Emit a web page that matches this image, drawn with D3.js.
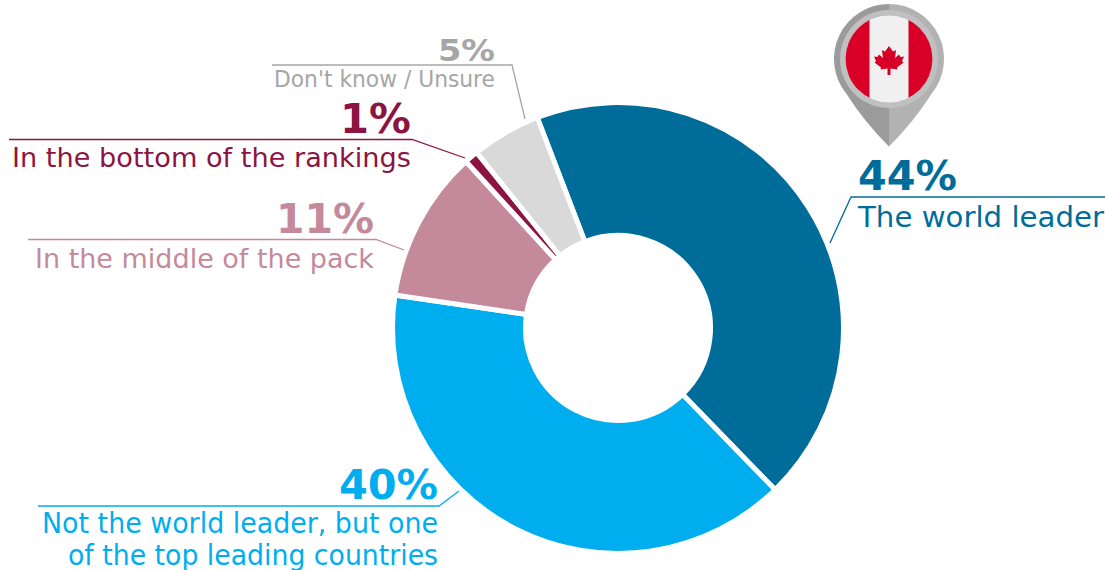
<!DOCTYPE html>
<html><head><meta charset="utf-8">
<script src="https://cdnjs.cloudflare.com/ajax/libs/d3/7.8.5/d3.min.js"></script>
<style>html,body{margin:0;padding:0;background:#fff}svg{display:block}text{font-family:"DejaVu Sans",Verdana,sans-serif}</style>
</head><body><svg id="c" width="1105" height="570"></svg>
<script>
const categories = ["The world leader","Not the world leader, but one|of the top leading countries","In the middle of the pack","In the bottom of the rankings","Don't know / Unsure"];
const values = [44,40,11,1,5];
const colors = ["#006c99","#00aeef","#c4899b","#8c1443","#d9d9d9"];
const textColors = ["#006c99","#00aeef","#c4899b","#8c1443","#a6a6a6"];
const svg = d3.select("#c");
const deg = Math.PI/180;
const start = -21*deg;
const pie = d3.pie().sort(null).startAngle(start).endAngle(start+2*Math.PI);
const arc = d3.arc().innerRadius(92.5).outerRadius(225.5);
const g = svg.append("g").attr("transform","translate(618,328)");
g.selectAll("path").data(pie(values)).join("path").attr("d",arc)
 .attr("fill",(d,i)=>colors[i]).attr("stroke","#fff").attr("stroke-width",5).attr("stroke-linejoin","miter");

const layout = [
 {line:[[1105,197],[851,197],[830,243]],x:858,anchor:"start",py:190,py2:[227],ps:40,ts:28,pw:99,tw:[246]},
 {line:[[38,506],[439,506],[459,491]],x:438,anchor:"end",py:499,py2:[533,565],ps:40,ts:27.5,pw:99,tw:[396,370]},
 {line:[[28,239.5],[376,239.5],[404,250]],x:374,anchor:"end",py:233,py2:[268],ps:40,ts:27,pw:98,tw:[339]},
 {line:[[9,139.5],[412,139.5],[465,158]],x:411,anchor:"end",py:133,py2:[167],ps:40,ts:27,pw:71,tw:[399]},
 {line:[[272,65],[512,65],[525,119]],x:495,anchor:"end",py:60.5,py2:[87],ps:31,ts:22.5,pw:57,tw:[221]}
];
const lineGen = d3.line();
layout.forEach((l,i)=>{
  svg.append("path").attr("d",lineGen(l.line)).attr("fill","none").attr("stroke",textColors[i]).attr("stroke-width",1.3);
  svg.append("text").attr("x",l.x).attr("y",l.py).attr("text-anchor",l.anchor).attr("font-weight","bold")
    .attr("font-size",l.ps).attr("fill",textColors[i])
    .attr("textLength",l.pw).attr("lengthAdjust","spacingAndGlyphs").text(values[i]+"%");
  categories[i].split("|").forEach((t,k)=>{
    svg.append("text").attr("x",l.x).attr("y",l.py2[k]).attr("text-anchor",l.anchor)
      .attr("font-size",l.ts).attr("fill",textColors[i])
      .attr("textLength",l.tw[k]).attr("lengthAdjust","spacingAndGlyphs").text(t);
  });
});

// Map pin with Canadian flag
const pin = svg.append("g").attr("transform","translate(889,59)");
const R=55, tip=87.5;
const a = Math.acos(R/tip);
const tx = R*Math.sin(a), ty = R*Math.cos(a);
pin.append("path").attr("d",`M0,${-R}A${R},${R} 0 0 0 ${-tx},${ty}Q-24,64 0,${tip}Z`).attr("fill","#9b9b9b");
pin.append("path").attr("d",`M0,${-R}A${R},${R} 0 0 1 ${tx},${ty}Q24,64 0,${tip}Z`).attr("fill","#b2b2b2");
pin.append("circle").attr("r",49).attr("fill","#c0c0c0");
pin.append("clipPath").attr("id","fc").append("circle").attr("r",43.5);
const f = pin.append("g").attr("clip-path","url(#fc)");
f.append("rect").attr("x",-44).attr("y",-44).attr("width",88).attr("height",88).attr("fill","#f0f0f0");
f.append("rect").attr("x",-44).attr("y",-44).attr("width",24.5).attr("height",88).attr("fill","#d80027");
f.append("rect").attr("x",19.5).attr("y",-44).attr("width",24.5).attr("height",88).attr("fill","#d80027");
f.append("path").attr("fill","#d80027").attr("d","M0,-13 L4,-7.5 L7,-9 L6,-1 L10,-4.5 L11.5,-2 L15,-2.5 L13,2 L14.5,3.5 L8,8.5 L8.5,10.5 L1.5,9.5 L1.5,16 L-1.5,16 L-1.5,9.5 L-8.5,10.5 L-8,8.5 L-14.5,3.5 L-13,2 L-15,-2.5 L-11.5,-2 L-10,-4.5 L-6,-1 L-7,-9 L-4,-7.5 Z");
</script></body></html>
